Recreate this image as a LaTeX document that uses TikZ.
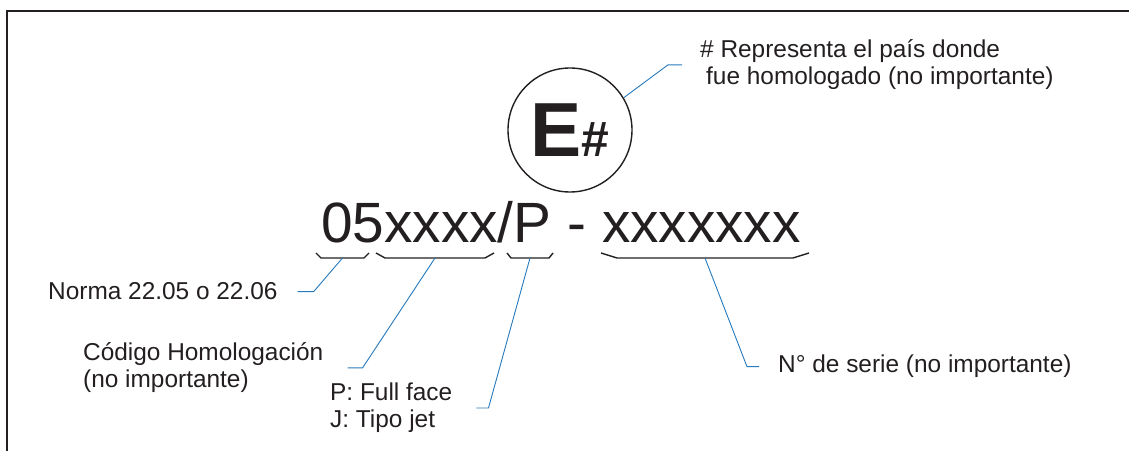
\documentclass[tikz,border=0pt]{standalone}
\usepackage{fontspec}
\setmainfont{Liberation Sans}

\definecolor{inkgray}{RGB}{35,31,32}
\definecolor{leaderblue}{RGB}{38,121,189}

\tikzset{
  bracket/.style={draw=inkgray,line width=1.4bp},
  leader/.style={draw=leaderblue,line width=0.9bp},
  note/.style={inner sep=0pt,text=inkgray,align=left,font=\fontsize{24.5}{27.5}\selectfont}
}

\begin{document}
\begin{tikzpicture}[x=1bp,y=-1bp]
\useasboundingbox (0,0) rectangle (1129,451);

% marco
\draw[inkgray,line width=2bp] (7,451) -- (7,11) -- (1129,11);

% simbolo de homologacion
\node[circle,draw=inkgray,line width=1.4bp,minimum size=124bp,inner sep=0pt,
      text=inkgray,font=\bfseries\fontsize{77}{77}\selectfont] (mark) at (570,130)
      {E{\fontsize{50}{50}\selectfont\#}};

\node[anchor=base west,inner sep=0pt,text=inkgray,font=\fontsize{57}{57}\selectfont]
      (code) at (321,243) {05xxxx/P - xxxxxxx};

% llaves bajo el codigo
\foreach \a/\b/\s/\n in {316/369/5/b1, 376/494/9/b2, 507/553/4/b3, 601/809/16/b4}{
  \draw[bracket] (\a,253) -- ({\a+\s},258) -- ({\b-\s},258) -- (\b,253);
  \coordinate (\n) at ({(\a+\b)/2},258);
}

% textos (base = ultima linea)
\node[note,anchor=base west] (pais) at (700,85)
      {\# Representa el país donde\\\hspace*{6bp}fue homologado (no importante)};
\node[note,anchor=base west] (norma) at (48,300) {Norma 22.05 o 22.06};
\node[note,anchor=base west] (codigo) at (83,388) {Código Homologación\\(no importante)};
\node[note,anchor=base west] (tipo) at (330,428) {P: Full face\\J: Tipo jet};
\node[note,anchor=base west] (serie) at (778,373) {N° de serie (no importante)};

% lineas de referencia
\draw[leader] (mark.31) -- ([xshift=-32bp]pais.west) -- ([xshift=-18bp]pais.west);
\draw[leader] (b1) -- ([xshift=36bp]norma.east) -- ([xshift=20bp]norma.east);
\draw[leader] (b2) -- ([xshift=39bp]codigo.east) -- ([xshift=24bp]codigo.east);
\draw[leader] (b3) -- ([xshift=36bp]tipo.east) -- ([xshift=24bp]tipo.east);
\draw[leader] (b4) -- ([xshift=-31bp]serie.west) -- ([xshift=-19bp]serie.west);

\end{tikzpicture}
\end{document}
